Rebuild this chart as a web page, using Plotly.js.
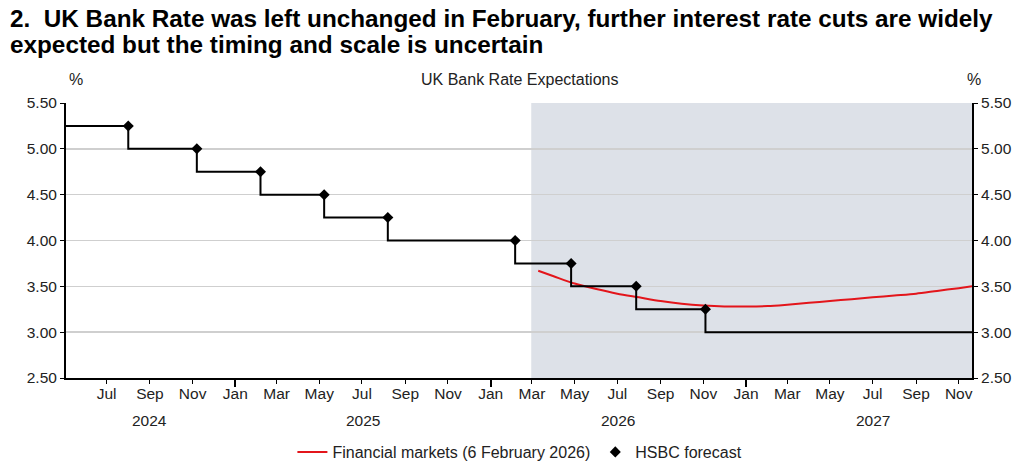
<!DOCTYPE html>
<html>
<head>
<meta charset="utf-8">
<script src="https://cdn.plot.ly/plotly-3.0.1.min.js"></script>
<style>html,body{margin:0;padding:0;background:#fff;}#chart{width:1023px;height:467px;}</style>
</head>
<body>
<div id="chart"></div>
<script>
// ---- data ----
const axisStart = '2024-05-04';
const axisEnd = '2027-11-20';
const forecastStart = '2026-02-28';

const hsbcDates = ['2024-08-01','2024-11-07','2025-02-06','2025-05-08','2025-08-07','2026-02-05','2026-04-26','2026-07-28','2026-11-04'];
const hsbcRates = [5.25, 5.00, 4.75, 4.50, 4.25, 4.00, 3.75, 3.50, 3.25];
const hsbcStartRate = 5.25;
const hsbcEndRate = 3.00;

const marketDates = ['2026-03-10','2026-04-01','2026-05-01','2026-06-01','2026-07-01','2026-08-01','2026-09-01','2026-10-01','2026-11-01','2026-12-01','2027-01-01','2027-02-01','2027-03-01','2027-04-01','2027-05-01','2027-06-01','2027-07-01','2027-08-01','2027-09-01','2027-10-01','2027-11-01','2027-11-20'];
const marketRates = [3.67, 3.61, 3.53, 3.47, 3.42, 3.38, 3.34, 3.31, 3.29, 3.28, 3.28, 3.285, 3.30, 3.32, 3.34, 3.36, 3.38, 3.40, 3.42, 3.45, 3.48, 3.50];

const yearLabels = ['2024', '2025', '2026', '2027'];
const yearLabelDates = ['2024-09-01', '2025-07-02', '2026-07-02', '2027-07-02'];

const seriesNames = ['Financial markets (6 February 2026)', 'HSBC forecast'];

const titleLines = ['2.\u00a0 UK Bank Rate was left unchanged in February, further interest rate cuts are widely',
                    'expected but the timing and scale is uncertain'];
const chartSubtitle = 'UK Bank Rate Expectations';

// ---- chart ----
const FONT = 'Liberation Sans, Arial, sans-serif';
const FS = 16;
const TFS = 15.5;

const stepX = [axisStart].concat(hsbcDates, [axisEnd]);
const stepY = [hsbcStartRate].concat(hsbcRates, [hsbcEndRate]);

const traces = [
  {x: marketDates, y: marketRates, type: 'scatter', mode: 'lines', name: seriesNames[0],
   line: {color: '#e3151b', width: 2, shape: 'spline', smoothing: 0.8}},
  {x: stepX, y: stepY, type: 'scatter', mode: 'lines', showlegend: false,
   line: {color: '#000', width: 2, shape: 'vh'}},
  {x: hsbcDates, y: hsbcRates, type: 'scatter', mode: 'markers', name: seriesNames[1],
   marker: {symbol: 'diamond', color: '#000', size: 8.5}},
  {x: [axisStart], y: [null], xaxis: 'x2', yaxis: 'y2', type: 'scatter', mode: 'markers',
   showlegend: false}
];

const yCommon = {
  range: [2.5, 5.5], dtick: 0.5, tick0: 2.5, tickformat: '.2f',
  ticks: 'outside', ticklen: 4, tickwidth: 1, tickcolor: '#000',
  showline: true, linecolor: '#000', linewidth: 2, zeroline: false,
  tickfont: {family: FONT, size: TFS, color: '#222'}, fixedrange: true
};

const annotations = [
  {text: '<b>' + titleLines[0] + '</b>', xref: 'paper', yref: 'paper', x: -0.064, y: 1.306,
   showarrow: false, xanchor: 'left', yanchor: 'middle', align: 'left',
   font: {family: FONT, size: 24.3, color: '#000'}},
  {text: '<b>' + titleLines[1] + '</b>', xref: 'paper', yref: 'paper', x: -0.064, y: 1.213,
   showarrow: false, xanchor: 'left', yanchor: 'middle', align: 'left',
   font: {family: FONT, size: 24.3, color: '#000'}},
  {text: '%', xref: 'paper', yref: 'paper', x: 0.011, y: 1.087, showarrow: false,
   font: {family: FONT, size: FS, color: '#222'}, xanchor: 'center', yanchor: 'middle'},
  {text: '%', xref: 'paper', yref: 'paper', x: 1.002, y: 1.087, showarrow: false,
   font: {family: FONT, size: FS, color: '#222'}, xanchor: 'center', yanchor: 'middle'},
  {text: chartSubtitle, xref: 'paper', yref: 'paper', x: 0.5, y: 1.084, showarrow: false,
   font: {family: FONT, size: FS, color: '#222'}, xanchor: 'center', yanchor: 'middle'}
];
yearLabels.forEach((t, i) => annotations.push({
  text: t, xref: 'x', yref: 'paper', x: yearLabelDates[i], y: -0.153, showarrow: false,
  font: {family: FONT, size: TFS, color: '#222'}, xanchor: 'center', yanchor: 'middle'
}));

const layout = {
  width: 1023, height: 467,
  margin: {l: 66, r: 51, t: 103, b: 89, pad: 0, autoexpand: false},
  paper_bgcolor: '#fff', plot_bgcolor: '#fff',
  font: {family: FONT, size: FS, color: '#222'},
  xaxis: {
    type: 'date', range: [axisStart, axisEnd], dtick: 'M2', tick0: '2024-07-01', tickformat: '%b',
    ticks: 'outside', ticklen: 4, tickwidth: 1, tickcolor: '#000', ticklabelstandoff: -4,
    showline: true, linecolor: '#000', linewidth: 2, showgrid: false, zeroline: false,
    tickfont: {family: FONT, size: TFS, color: '#222'}, fixedrange: true, automargin: false
  },
  xaxis2: {
    type: 'date', overlaying: 'x', matches: 'x', anchor: 'y', side: 'bottom',
    dtick: 'M12', tick0: '2025-01-01', showticklabels: false,
    ticks: 'outside', ticklen: 8, tickwidth: 2, tickcolor: '#000',
    showline: false, showgrid: false, zeroline: false
  },
  yaxis: Object.assign({}, yCommon, {showgrid: true, gridcolor: '#cfcfcf', gridwidth: 1.5, side: 'left'}),
  yaxis2: Object.assign({}, yCommon, {overlaying: 'y', matches: 'y', side: 'right', anchor: 'x', showgrid: false}),
  shapes: [
    {type: 'rect', xref: 'x', yref: 'paper', x0: forecastStart, x1: axisEnd, y0: 0, y1: 1,
     fillcolor: '#dde1e8', line: {width: 0}, layer: 'below'}
  ],
  annotations: annotations,
  showlegend: true,
  legend: {
    orientation: 'h', x: 0.501, xanchor: 'center', y: -0.269, yanchor: 'middle',
    font: {family: FONT, size: FS, color: '#222'}, itemwidth: 30, tracegroupgap: 0,
    bgcolor: 'rgba(0,0,0,0)'
  }
};

Plotly.newPlot('chart', traces, layout, {displayModeBar: false, staticPlot: true});
</script>
</body>
</html>
